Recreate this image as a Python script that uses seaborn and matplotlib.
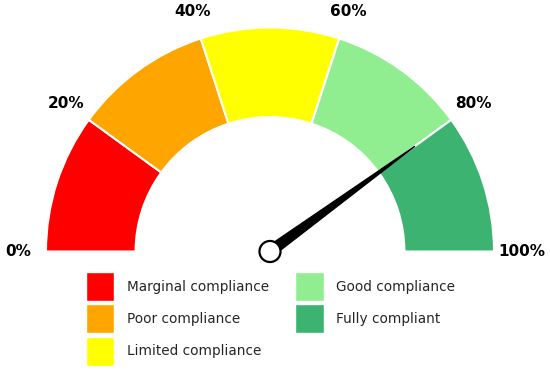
import numpy as np
import matplotlib.pyplot as plt
import seaborn as sns
from matplotlib.patches import Wedge, Circle, Patch

# datos del gauge
categorias = ['Marginal compliance', 'Poor compliance', 'Limited compliance',
              'Good compliance', 'Fully compliant']
colores = ['#FF0000', '#FFA500', '#FFFF00', '#90EE90', '#3CB371']
limites = [0, 20, 40, 60, 80, 100]
etiquetas = ['0%', '20%', '40%', '60%', '80%', '100%']
valor_aguja = 80

sns.set_theme(style="white")
plt.rcParams['font.family'] = ['DejaVu Sans']

fig = plt.figure(figsize=(5.5, 3.7), dpi=100)
ax = fig.add_axes([0, 0, 1, 1])

def angulo(v):
    # 0% a la izquierda (180 grados), 100% a la derecha (0 grados)
    return 180 - v * 180 / 100

# segmentos del arco
for i, color in enumerate(colores):
    t1 = angulo(limites[i + 1])
    t2 = angulo(limites[i])
    ax.add_patch(Wedge((0, 0), 1, t1, t2, width=0.4, facecolor=color,
                       edgecolor='white', linewidth=1.5))

# etiquetas de porcentaje
for v, txt in zip(limites, etiquetas):
    a = np.radians(angulo(v))
    ax.text(1.125 * np.cos(a), 1.125 * np.sin(a), txt, ha='center', va='center',
            fontsize=11, fontweight='bold', color='black')

# aguja
a = np.radians(angulo(valor_aguja))
largo = 0.8
ancho = 0.024
punta = (largo * np.cos(a), largo * np.sin(a))
b1 = (ancho * np.cos(a + np.pi / 2), ancho * np.sin(a + np.pi / 2))
b2 = (ancho * np.cos(a - np.pi / 2), ancho * np.sin(a - np.pi / 2))
ax.fill([b1[0], punta[0], b2[0]], [b1[1], punta[1], b2[1]], color='black', zorder=3)
ax.add_patch(Circle((0, 0), 0.047, facecolor='white', edgecolor='black',
                    linewidth=1.6, zorder=4))

# leyenda
handles = [Patch(facecolor=c, edgecolor='white', linewidth=1.0) for c in colores]
fig.legend(handles, categorias, loc='upper left', bbox_to_anchor=(85.5 / 550, 1 - 272 / 370),
           ncol=2, frameon=False, fontsize=9.8, borderpad=0, borderaxespad=0,
           handlelength=2.12, handleheight=2.9, handletextpad=0.9,
           labelspacing=0.24, columnspacing=1.95)

ax.set_xlim(-270 / 224, 280 / 224)
ax.set_ylim(-(370 - 251.5) / 224, 251.5 / 224)
ax.axis('off')

fig.savefig('out.png', dpi=100)
